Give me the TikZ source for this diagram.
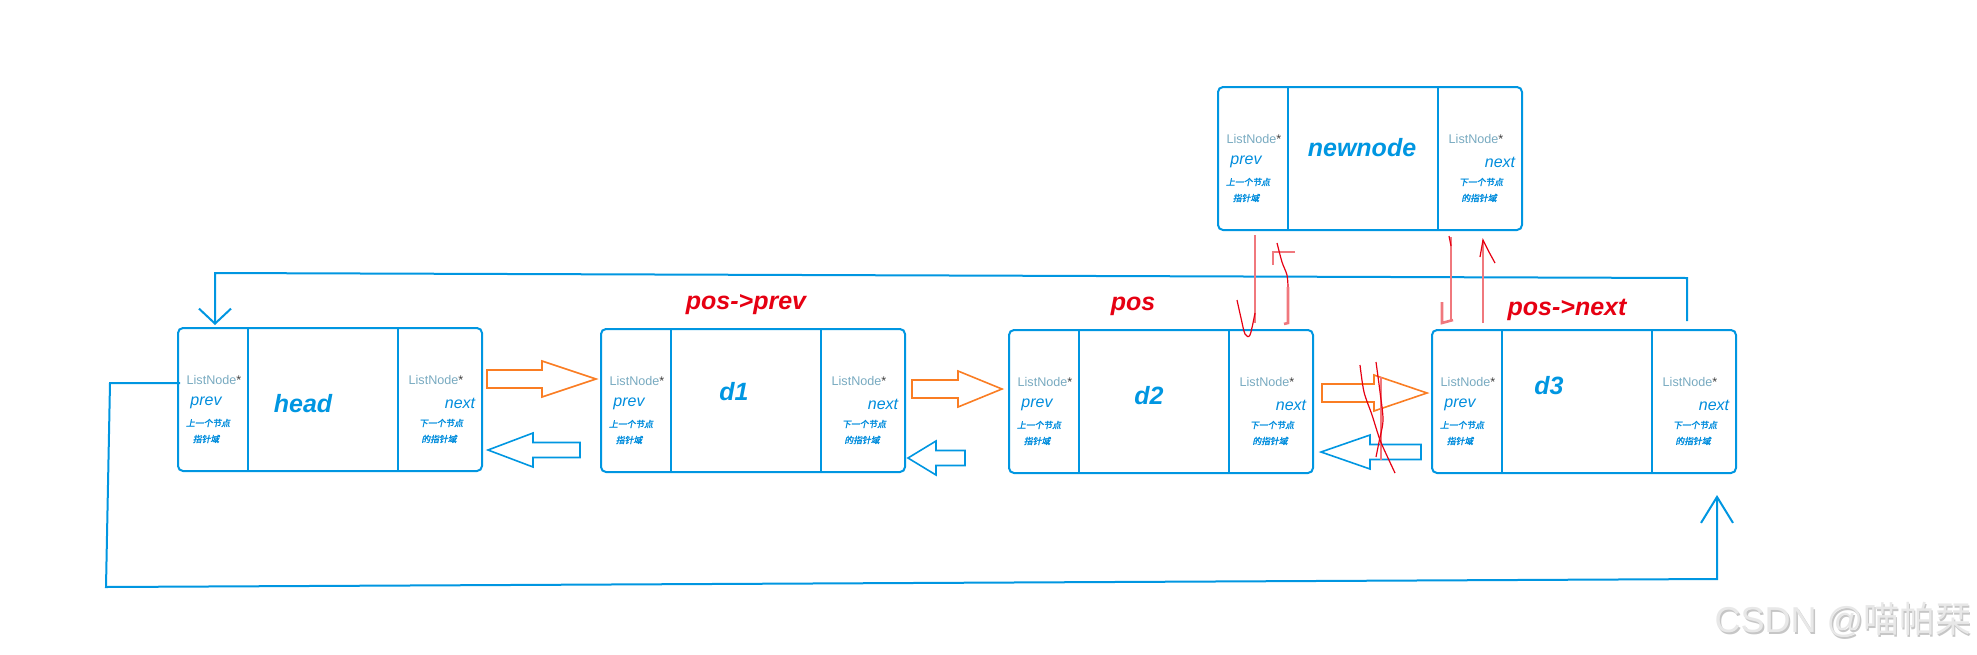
\documentclass[tikz,border=0pt]{standalone}
\usepackage{fontspec}
\setmainfont{Liberation Sans}
\newfontfamily\cjkfont[FakeSlant=0.2,FakeBold=2]{Noto Sans CJK SC}
\newfontfamily\wmcjk{Noto Sans CJK SC}
\usetikzlibrary{arrows.meta,positioning}
\definecolor{boxBlue}{RGB}{0,150,225}
\definecolor{typeGray}{RGB}{120,170,192}
\definecolor{ptrBlue}{RGB}{0,140,220}
\definecolor{posRed}{RGB}{230,0,18}
\definecolor{arrOrange}{RGB}{250,125,35}
\definecolor{markPink}{RGB}{240,120,125}
\begin{document}
\begin{tikzpicture}[x=0.5pt,y=-0.5pt,
    listBox/.style={draw=boxBlue,line width=1pt,rounded corners=2.5pt,
                    minimum width=152pt,minimum height=71.5pt,inner sep=0pt,
                    anchor=north west},
    boxLine/.style={draw=boxBlue,line width=0.9pt},
    typeText/.style={text=typeGray,font=\fontsize{6.3}{7}\selectfont,inner sep=0pt},
    ptrText/.style={text=ptrBlue,font=\fontsize{8}{9}\selectfont\itshape,inner sep=0pt},
    cjkText/.style={text=ptrBlue,font=\fontsize{4.4}{5}\cjkfont,inner sep=0pt},
    dataLabel/.style={text=boxBlue,font=\fontsize{12.5}{14}\selectfont\bfseries\itshape,inner sep=0pt},
    posLabel/.style={text=posRed,font=\fontsize{12.5}{14}\selectfont\bfseries\itshape,inner sep=0pt},
    fwdArrow/.style={draw=arrOrange,line width=0.8pt,line join=miter},
    bwdArrow/.style={draw=boxBlue,line width=0.8pt,line join=miter},
    loopLine/.style={draw=boxBlue,line width=1pt},
    penMark/.style={draw=markPink,line width=1.3pt},
    penScrawl/.style={draw=posRed,line width=0.6pt}]
  \useasboundingbox (0,0) rectangle (1977,654);

  % the five list nodes
  \foreach \n/\x/\y in {head/177/327,d1/600/328,d2/1008/329,d3/1431/329,newnode/1217/86}{
    \node[listBox] (\n) at (\x,\y) {};
    \draw[boxLine] ([shift={(71,0)}]\n.north west) -- ([shift={(71,0)}]\n.south west);
    \draw[boxLine] ([shift={(221,0)}]\n.north west) -- ([shift={(221,0)}]\n.south west);
    % prev field
    \node[typeText] (\n-pt) at ([shift={(37,53)}]\n.north west) {ListNode\textcolor{darkgray}{*}};
    \node[ptrText]  (\n-pv) at ([shift={(29,76)}]\n.north west) {prev};
    \node[cjkText]  (\n-p1) at ([shift={(31,96)}]\n.north west) {上一个节点};
    \node[cjkText]  (\n-p2) at ([shift={(29,112)}]\n.north west) {指针域};
    % next field
    \node[typeText] (\n-nt) at ([shift={(259,53)}]\n.north west) {ListNode\textcolor{darkgray}{*}};
    \node[ptrText]  (\n-nx) at ([shift={(283,76)}]\n.north west) {next};
    \node[cjkText]  (\n-n1) at ([shift={(264,96)}]\n.north west) {下一个节点};
    \node[cjkText]  (\n-n2) at ([shift={(262,112)}]\n.north west) {的指针域};
  }
  \foreach \n/\dx/\dy in {head/126/77,d1/134/64,d2/141/67,d3/118/57,newnode/145/62}
    \node[dataLabel] (\n-lbl) at ([shift={(\dx,\dy)}]\n.north west) {\n};

  \node[posLabel] (posPrev) at (746,305) {pos->prev};
  \node[posLabel] (posCur)  at (1133,306) {pos};
  \node[posLabel] (posNext) at (1567,310) {pos->next};

  % block arrows between neighbours
  \foreach \t/\s/\h/\y in {487/542/596/379,912/958/1002/389,1322/1374/1427/393}
    \draw[fwdArrow] (\t,\y-9) -- (\s,\y-9) -- (\s,\y-18) -- (\h,\y)
      -- (\s,\y+18) -- (\s,\y+9) -- (\t,\y+9) -- cycle;
  \foreach \t/\s/\h/\y in {580/533/488/450,965/936/908/458,1421/1370/1321/452}
    \draw[bwdArrow] (\t,\y-7.5) -- (\s,\y-7.5) -- (\s,\y-17) -- (\h,\y)
      -- (\s,\y+17) -- (\s,\y+7.5) -- (\t,\y+7.5) -- cycle;

  % circular links
  \draw[loopLine,-{Straight Barb[length=7.5pt,width=16pt]}]
    ([shift={(256,-8)}]d3.north west) -- (1687,278) -- (215,273)
    -- ([shift={(38,-2)}]head.north west);
  \draw[loopLine,-{Straight Barb[length=13pt,width=16pt]}]
    ([shift={(3,56)}]head.north west) -- (110,383) -- (106,587) -- (1717,579)
    -- ([shift={(286,21)}]d3.south west);

  % hand marks: newnode <-> d2
  \draw[penMark] (1255,235) -- (1255,323);
  \draw[penScrawl] plot[smooth] coordinates {(1237,300) (1241,318) (1245,334) (1250,335) (1255,313)};
  \draw[penMark] (1295,252) -- (1273,252) -- (1273,265);
  \draw[penScrawl] plot[smooth] coordinates {(1277,243) (1282,262) (1287,275) (1288,287)};
  \draw[penMark] (1288,287) -- (1288,323) -- (1284,324);
  % hand marks: newnode <-> d3
  \draw[penMark] (1451,237) -- (1451,320);
  \draw[penMark] (1442,302) -- (1442,323) -- (1453,320);
  \draw[penScrawl] (1449,236) -- (1451,246);
  \draw[penMark] (1483,323) -- (1483,240);
  \draw[penScrawl] (1480,257) -- (1483,240) -- (1489,252) -- (1495,263);
  % hand marks: cut between d2 and d3
  \draw[penMark] (1381,377) -- (1381,460);
  \draw[penScrawl] plot[smooth] coordinates {(1360,365) (1364,392) (1372,415) (1380,440) (1388,458) (1395,473)};
  \draw[penScrawl] plot[smooth] coordinates {(1376,362) (1380,392) (1383,420) (1379,442) (1376,457)};

  % watermark
  \node[text=gray!45,font=\fontsize{18}{20}\selectfont,inner sep=0pt] at (1844.5,621.5) {CSDN @{\wmcjk 喵帕栞}};
  \node[text=gray!18,font=\fontsize{18}{20}\selectfont,inner sep=0pt] (mark) at (1843,620) {CSDN @{\wmcjk 喵帕栞}};
\end{tikzpicture}
\end{document}
